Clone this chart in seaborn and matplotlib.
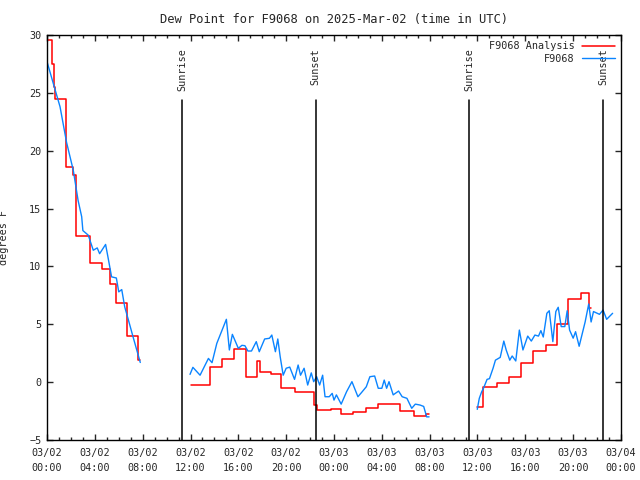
import numpy as np
import pandas as pd
from matplotlib import pyplot as plt
import seaborn as sns

# horas desde 2025-03-02 00:00 UTC
obs_h1 = [0, 0.53, 1.09, 1.64, 2.2, 2.6, 2.9, 3.0, 3.45, 3.87, 4.2, 4.4, 4.9, 5.1, 5.4, 5.8, 6.0, 6.25, 6.5, 6.8, 7.2, 7.5, 7.8]
obs_v1 = [27.7, 25.8, 23.8, 20.7, 18.3, 15.7, 14.3, 13.1, 12.7, 11.4, 11.6, 11.1, 11.9, 10.8, 9.1, 9.0, 7.8, 8.0, 6.5, 5.4, 3.9, 2.8, 1.7]

obs_h2 = [11.96, 12.2, 12.8, 13.5, 13.8, 14.2, 14.7, 15.0, 15.25, 15.5, 16.0, 16.3, 16.55, 16.8, 17.1, 17.5,
          17.75, 18.2, 18.6, 18.8, 19.1, 19.3, 19.5, 19.75, 20.0, 20.3, 20.7, 21.0, 21.2, 21.5, 21.8, 22.1,
          22.3, 22.55, 22.8, 23.05, 23.25, 23.6, 23.85, 24.0, 24.2, 24.6, 25.05, 25.5, 26.0, 26.3, 26.7, 27.0,
          27.4, 27.7, 28.0, 28.2, 28.4, 28.6, 28.95, 29.4, 29.7, 30.1, 30.5, 30.8, 31.2, 31.5, 31.75, 31.95]
obs_v2 = [0.67, 1.28, 0.6, 2.05, 1.68, 3.35, 4.65, 5.43, 2.78, 4.13, 2.92, 3.18, 3.15, 2.69, 2.69, 3.5,
          2.63, 3.73, 3.79, 4.07, 2.63, 3.73, 2.2, 0.6, 1.2, 1.3, 0.24, 1.48, 0.6, 1.2, -0.25, 0.8,
          0.04, 0.47, -0.25, 0.6, -1.26, -1.26, -0.97, -1.55, -1.1, -1.9, -0.83, 0.04, -1.26, -0.9, -0.4, 0.47,
          0.53, -0.53, -0.53, 0.18, -0.53, 0.04, -1.1, -0.77, -1.26, -1.4, -2.26, -1.9, -1.98, -2.1, -3.0, -3.0]

obs_h3 = [35.98, 36.15, 36.35, 36.5, 36.8, 37.0, 37.3, 37.5, 37.9, 38.2, 38.4, 38.7, 38.9, 39.2, 39.5, 39.8,
          40.2, 40.5, 40.8, 41.1, 41.3, 41.5, 41.8, 42.0, 42.3, 42.55, 42.75, 43.0, 43.3, 43.5, 43.7, 44.0,
          44.2, 44.5, 45.0, 45.3, 45.5, 45.7, 46.2, 46.5, 46.8, 47.3]
obs_v3 = [-2.35, -1.4, -0.83, -0.53, 0.24, 0.3, 1.2, 1.9, 2.14, 3.55, 2.78, 1.9, 2.26, 1.83, 4.5, 2.78,
          3.98, 3.55, 4.07, 3.98, 4.45, 3.9, 5.95, 6.17, 3.5, 6.1, 6.47, 4.8, 4.8, 6.17, 4.5, 3.8,
          4.36, 3.1, 5.2, 6.75, 5.2, 6.1, 5.86, 6.23, 5.43, 5.95]

# analisis (escalones)
ana_h1 = [0, 0.45, 0.55, 0.65, 1.55, 2.2, 2.43, 3.6, 4.6, 5.3, 5.75, 6.7, 7.6, 7.8]
ana_v1 = [29.6, 27.5, 25.5, 24.5, 18.6, 17.9, 12.6, 10.3, 9.8, 8.5, 6.8, 4.0, 1.9, 1.9]
ana_h2 = [12.0, 13.65, 14.6, 15.65, 16.6, 17.6, 17.85, 18.7, 19.6, 20.7, 22.35, 22.6, 23.75, 24.6,
          25.6, 26.65, 27.65, 29.5, 30.65, 31.7, 31.95]
ana_v2 = [-0.25, 1.28, 1.97, 2.83, 0.47, 1.85, 0.88, 0.67, -0.53, -0.88, -1.98, -2.4, -2.3, -2.78,
          -2.55, -2.26, -1.9, -2.5, -2.9, -2.75, -2.75]
ana_h3 = [36.0, 36.5, 37.6, 38.6, 39.6, 40.6, 41.7, 42.65, 43.6, 44.65, 45.35, 45.45]
ana_v3 = [-2.17, -0.4, -0.1, 0.47, 1.63, 2.69, 3.18, 5.0, 7.16, 7.73, 6.38, 6.38]

sun_h = [11.31, 22.47, 35.31, 46.51]
sun_lbl = ['Sunrise', 'Sunset', 'Sunrise', 'Sunset']

tick_h = list(range(0, 49, 4))
tick_lbl = ['03/02\n00:00', '03/02\n04:00', '03/02\n08:00', '03/02\n12:00', '03/02\n16:00', '03/02\n20:00',
            '03/03\n00:00', '03/03\n04:00', '03/03\n08:00', '03/03\n12:00', '03/03\n16:00', '03/03\n20:00',
            '03/04\n00:00']

sns.set_style('ticks')
plt.rcParams['font.family'] = ['DejaVu Sans Mono']
plt.rcParams['font.size'] = 7.3

fig = plt.figure(figsize=(6.4, 4.8), dpi=100)
ax = fig.add_axes([47 / 640, 40 / 480, 574 / 640, 405 / 480])

rojo = '#ff0000'
azul = '#0a84ff'

for i, (h, v) in enumerate([(ana_h1, ana_v1), (ana_h2, ana_v2), (ana_h3, ana_v3)]):
    df = pd.DataFrame({'h': h, 'v': v})
    sns.lineplot(data=df, x='h', y='v', ax=ax, color=rojo, lw=1.1, drawstyle='steps-post',
                 label='F9068 Analysis' if i == 0 else None, legend=False)
for i, (h, v) in enumerate([(obs_h1, obs_v1), (obs_h2, obs_v2), (obs_h3, obs_v3)]):
    df = pd.DataFrame({'h': h, 'v': v})
    sns.lineplot(data=df, x='h', y='v', ax=ax, color=azul, lw=1.0,
                 label='F9068' if i == 0 else None, legend=False)

for h, t in zip(sun_h, sun_lbl):
    ax.axvline(h, ymin=0, ymax=0.84, color='black', lw=1.1)
    ax.text(h, 0.968, t, rotation=90, ha='center', va='top',
            transform=ax.get_xaxis_transform())

ax.set_xlim(0, 48)
ax.set_ylim(-5, 30)
ax.set_xticks(tick_h)
ax.set_xticklabels(tick_lbl, linespacing=1.6)
ax.set_xticks(range(0, 49), minor=True)
ax.set_yticks(range(-5, 31, 5))
ax.tick_params(direction='in', top=True, right=True, length=4, width=1, pad=6)
ax.tick_params(axis='y', pad=4)
ax.tick_params(which='minor', direction='in', top=True, bottom=True, length=2.5, width=1)
for s in ax.spines.values():
    s.set_linewidth(1)
    s.set_color('black')

ax.set_xlabel('')
ax.set_ylabel('degrees F')
ax.yaxis.set_label_coords(-0.066, 0.5)
ax.set_title('Dew Point for F9068 on 2025-Mar-02 (time in UTC)', pad=9)

ax.legend(loc='upper right', frameon=False, markerfirst=False, handlelength=3.2,
          borderaxespad=0.2, labelspacing=0.25, handletextpad=0.8)

plt.savefig('out.png', dpi=100)
